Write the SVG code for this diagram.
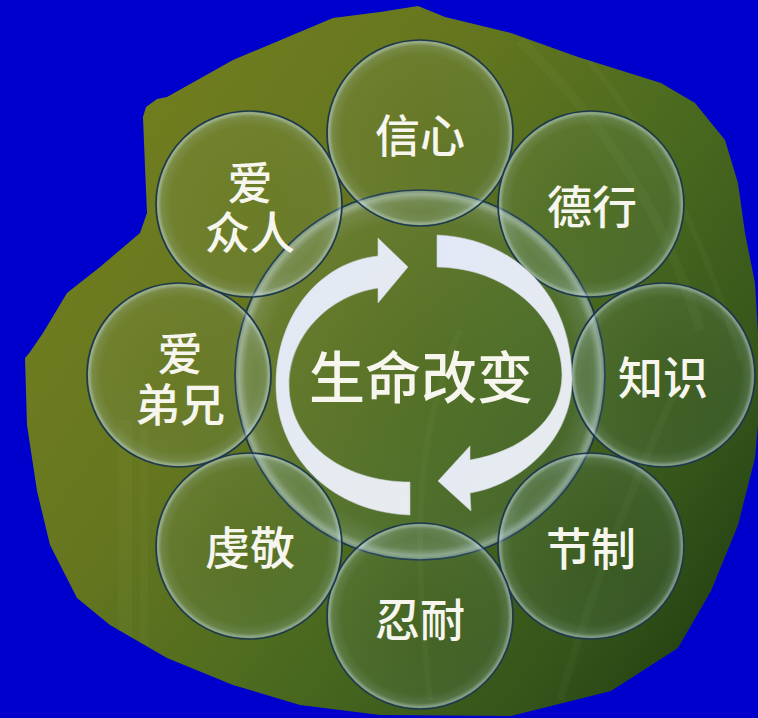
<svg xmlns="http://www.w3.org/2000/svg" width="758" height="718" viewBox="0 0 758 718">
  <defs>
    <linearGradient id="blobGrad" x1="0" y1="0.15" x2="1" y2="0.85">
      <stop offset="0" stop-color="#75811f"/>
      <stop offset="0.35" stop-color="#65761f"/>
      <stop offset="0.6" stop-color="#4b6a1f"/>
      <stop offset="0.85" stop-color="#34541a"/>
      <stop offset="1" stop-color="#213f10"/>
    </linearGradient>
    <radialGradient id="bubble" cx="50%" cy="50%" r="50%">
      <stop offset="0" stop-color="#a8c8d8" stop-opacity="0.04"/>
      <stop offset="0.84" stop-color="#a8c8d8" stop-opacity="0.08"/>
      <stop offset="0.94" stop-color="#b8d4e4" stop-opacity="0.2"/>
      <stop offset="0.978" stop-color="#d4e6f0" stop-opacity="0.5"/>
      <stop offset="1" stop-color="#7fa4bc" stop-opacity="0.55"/>
    </radialGradient>
    <linearGradient id="arrowGrad" x1="0" y1="0" x2="1" y2="1">
      <stop offset="0" stop-color="#e2e8f6"/>
      <stop offset="1" stop-color="#e8ecee"/>
    </linearGradient>
    <clipPath id="blobClip">
      <path d="M380,12 L418,6 L445,17 L511,33 L578,57 L661,83 L695,103 L725,140 L738,183 L745,233 L755,283 L758,333 L758,425 L755,458 L738,525 L711,591 L678,648 L611,691 L511,716 L380,715 L300,705 L233,685 L167,658 L110,625 L77,598 L50,545 L37,491 L27,425 L25,358 L30,352 L43,333 L67,293 L100,267 L140,233 L147,213 L145,167 L143,117 L146,107 L157,99 L167,97 L233,60 L333,18 Z"/>
    </clipPath>
    <style>
      .bub { fill: url(#bubble); stroke: #1d384a; stroke-width: 1.7; }
      .lbl { font-family: "Noto Sans CJK SC", "Noto Sans", sans-serif; fill: #f6f6ee; text-anchor: middle; font-size: 45px; font-weight: 500; }
      .center { font-size: 56px; }
      .arrow { fill: url(#arrowGrad); stroke: #c9d2d8; stroke-width: 0.6; }
    </style>
  </defs>

  <rect x="0" y="0" width="758" height="718" fill="#0000cc"/>

  <g id="background">
    <path d="M380,12 L418,6 L445,17 L511,33 L578,57 L661,83 L695,103 L725,140 L738,183 L745,233 L755,283 L758,333 L758,425 L755,458 L738,525 L711,591 L678,648 L611,691 L511,716 L380,715 L300,705 L233,685 L167,658 L110,625 L77,598 L50,545 L37,491 L27,425 L25,358 L30,352 L43,333 L67,293 L100,267 L140,233 L147,213 L145,167 L143,117 L146,107 L157,99 L167,97 L233,60 L333,18 Z" fill="url(#blobGrad)"/>
    <g clip-path="url(#blobClip)" fill="none" stroke="#d8e8b0" stroke-opacity="0.04">
      <rect x="118" y="420" width="14" height="260" fill="#d8e8b0" fill-opacity="0.04" stroke="none"/>
      <rect x="140" y="430" width="8" height="240" fill="#d8e8b0" fill-opacity="0.03" stroke="none"/>
      <path d="M520,40 C600,120 660,200 700,330" stroke-width="10"/>
      <path d="M560,30 C640,110 700,220 740,360" stroke-width="6"/>
      <path d="M680,380 C640,470 600,560 560,700" stroke-width="8"/>
      <path d="M460,330 C420,420 410,520 430,700" stroke-width="6"/>
    </g>
  </g>

  <g id="node-center">
    <circle class="bub" cx="420" cy="375" r="185"/>
  </g>

  <g id="node-xinxin">
    <circle class="bub" cx="420" cy="133" r="93"/>
    <text class="lbl" x="420" y="153">信心</text>
  </g>
  <g id="node-dexing">
    <circle class="bub" cx="591" cy="204" r="93"/>
    <text class="lbl" x="592" y="224">德行</text>
  </g>
  <g id="node-zhishi">
    <circle class="bub" cx="663" cy="375" r="92"/>
    <text class="lbl" x="663" y="395">知识</text>
  </g>
  <g id="node-jiezhi">
    <circle class="bub" cx="591" cy="546" r="93"/>
    <text class="lbl" x="591" y="566">节制</text>
  </g>
  <g id="node-rennai">
    <circle class="bub" cx="420" cy="616" r="93"/>
    <text class="lbl" x="420" y="637">忍耐</text>
  </g>
  <g id="node-qianjing">
    <circle class="bub" cx="249" cy="546" r="93"/>
    <text class="lbl" x="250" y="565">虔敬</text>
  </g>
  <g id="node-aidixiong">
    <circle class="bub" cx="179" cy="375" r="92"/>
    <text class="lbl" x="180" y="371">爱<tspan x="180" dy="51">弟兄</tspan></text>
  </g>
  <g id="node-aizhongren">
    <circle class="bub" cx="249" cy="204" r="93"/>
    <text class="lbl" x="250" y="200">爱<tspan x="250" dy="50">众人</tspan></text>
  </g>

  <g id="connectors">
    <path class="arrow" d="M410,515 C330,512 276,455 276,385 C276,315 320,262 378,256 L378,238 L408,267 L378,303 L378,288 C330,295 289,335 289,385 C289,440 340,482 410,482 Z"/>
    <path class="arrow" d="M437,235 C510,238 572,290 572,380 C572,440 520,485 470,493 L471,511 L438,481 L470,446 L470,460 C520,452 562,420 562,375 C562,320 510,268 437,267 Z"/>
  </g>

  <g id="node-title">
    <text class="lbl center" x="421" y="398">生命改变</text>
  </g>
</svg>
